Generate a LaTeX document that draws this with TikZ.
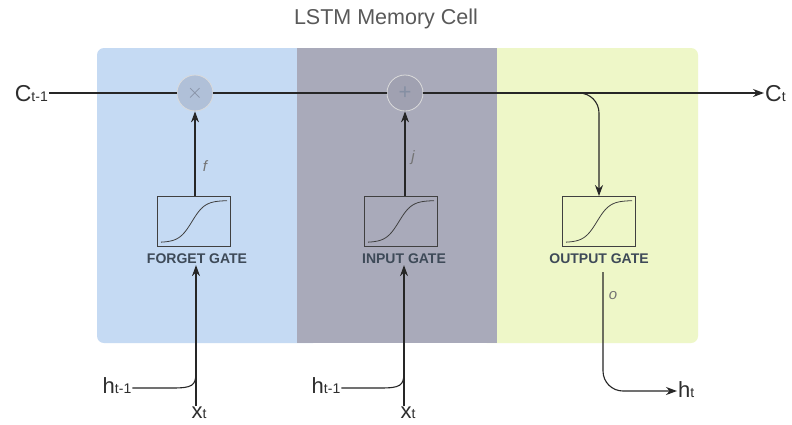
\documentclass[tikz,border=0pt]{standalone}
\usepackage{fontspec}
\setmainfont{Liberation Sans}
\usetikzlibrary{arrows.meta}
\definecolor{pblue}{HTML}{C5DAF3}
\definecolor{pgray}{HTML}{A9AABA}
\definecolor{pgreen}{HTML}{EEF7C8}
\definecolor{txt}{HTML}{2E2E2E}
\definecolor{gatetxt}{HTML}{3E4A58}
\definecolor{opfill1}{HTML}{B0C0D8}
\definecolor{opfill2}{HTML}{A0A1B1}
\definecolor{opsym}{HTML}{858FA3}
\newcommand{\bigsub}[2]{{\fontsize{23}{23}\selectfont #1}{\fontsize{14}{14}\selectfont #2}}
\newcommand{\smallsub}[2]{{\fontsize{22}{22}\selectfont #1}{\fontsize{14}{14}\selectfont #2}}
\tikzset{
  arr/.style={-{Stealth[length=11pt,width=8pt]}, line width=1.1pt, draw=black!85},
  ln/.style={line width=1.1pt, draw=black!85},
  gatebox/.style={draw=black!75, line width=0.9pt, minimum width=73pt, minimum height=50pt, inner sep=0pt},
  gatelbl/.style={font=\bfseries\fontsize{14}{14}\selectfont, text=gatetxt, inner sep=1pt},
  lbl/.style={text=txt, inner sep=1pt},
  oplbl/.style={font=\itshape\fontsize{15}{15}\selectfont, text=black!55, inner sep=1pt},
  opcirc/.style={circle, minimum size=36pt, inner sep=0pt, draw=white!72!gray, line width=0.8pt, text=opsym, font=\fontsize{22}{22}\selectfont},
}
\begin{document}
\begin{tikzpicture}[x=1pt,y=-1pt]
\useasboundingbox (0,0) rectangle (792,424);
\fill[white] (0,0) rectangle (792,424);
% panels
\fill[pblue, rounded corners=7pt] (97,48) rectangle (320,343);
\fill[pgreen, rounded corners=7pt] (480,48) rectangle (698,343);
\fill[pgray] (297,48) rectangle (497,343);
% title
\node[text=black!65, font=\fontsize{21.5}{22}\selectfont] (title) at (386,19) {LSTM Memory Cell};
% labels
\node[lbl, anchor=east] (cin) at (49,94) {\bigsub{C}{t-1}};
\node[lbl, anchor=west] (cout) at (764,94) {\bigsub{C}{t}};
% operators
\node[opcirc, fill=opfill1] (mul) at (195,93) {$\times$};
\node[opcirc, fill=opfill2] (add) at (405,93) {+};
% gate boxes
\node[gatebox] (fgbox) at (194,221.5) {};
\node[gatebox] (igbox) at (401,221.5) {};
\node[gatebox] (ogbox) at (599,221.5) {};
\foreach \n in {fgbox,igbox,ogbox}
  \draw[black!75, line width=0.8pt, shift={(\n.center)}] plot[domain=-33:33, samples=60, smooth] (\x,{21-42/(1+exp(-(\x+2)/6.5))});
\node[gatelbl] (fglbl) at (197,259) {FORGET GATE};
\node[gatelbl] (iglbl) at (404,259) {INPUT GATE};
\node[gatelbl] (oglbl) at (599,259) {OUTPUT GATE};
% inputs
\node[lbl] (h1) at (117,386) {\smallsub{h}{t-1}};
\node[lbl] (x1) at (199,413) {\smallsub{x}{t}};
\node[lbl] (h2) at (326,386) {\smallsub{h}{t-1}};
\node[lbl] (x2) at (408,413) {\smallsub{x}{t}};
\node[lbl, anchor=west] (ht) at (677,390) {\smallsub{h}{t}};
% main line
\draw[ln] (cin.east |- mul.west) -- (mul.west);
\draw[ln] (mul.east) -- (add.west);
\draw[arr] (add.east) -- (cout.west |- add.east);
% branch to output gate
\coordinate (br) at (560,93);
\draw[arr, rounded corners=20pt] (br) -| (ogbox.north);
% gates to operators
\draw[arr] (fgbox.north -| mul.south) -- (mul.south);
\draw[arr] (igbox.north -| add.south) -- (add.south);
\node[oplbl] (f) at (205,166) {f};
\node[oplbl] (j) at (413,158) {j};
% inputs to gates
\coordinate (fj) at (196,372);
\coordinate (ij) at (404,372);
\coordinate (hy) at (0,388);
\coordinate (oy) at (0,391);
\draw[arr] (x1.north -| fj) -- (fglbl.south -| fj);
\draw[ln] (h1.east |- hy) -- (172,388) .. controls (192,388) and (196,386) .. (fj);
\draw[arr] (x2.north -| ij) -- (iglbl.south -| ij);
\draw[ln] (h2.east |- hy) -- (380,388) .. controls (400,388) and (404,386) .. (ij);
% output
\coordinate (oo) at (603,272);
\draw[arr, rounded corners=20pt] (oo) -- (603,391) -- (ht.west |- oy);
\node[oplbl] (o) at (613,296) {o};
\end{tikzpicture}
\end{document}
